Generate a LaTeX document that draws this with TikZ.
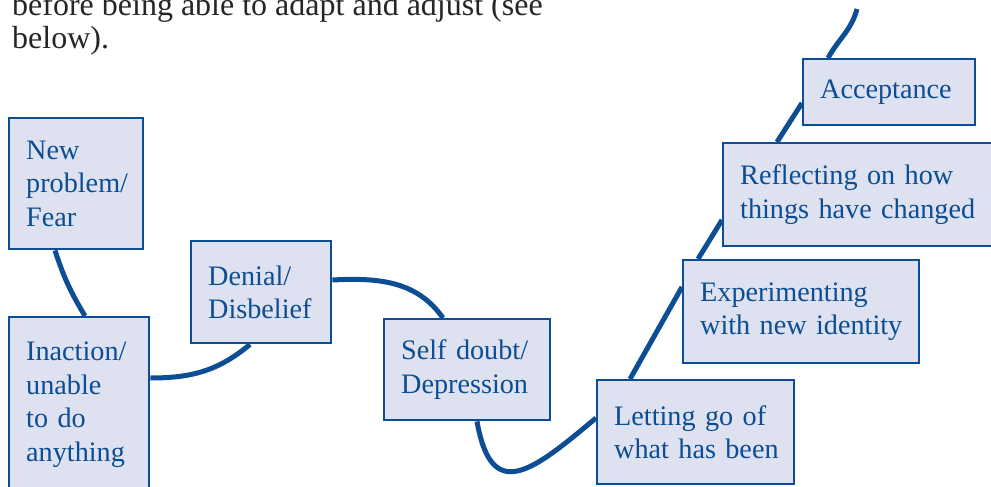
\documentclass[tikz,border=0pt]{standalone}
\usepackage{fontspec}
\setmainfont{Liberation Serif}
\usetikzlibrary{calc,backgrounds}
\definecolor{stageblue}{RGB}{12,77,148}
\definecolor{stagefill}{RGB}{221,225,240}
\tikzset{
	stage/.style={draw=stageblue, fill=stagefill, line width=2.4pt, text=stageblue,
		font=\fontsize{28.2}{33.5}\selectfont, align=left, anchor=north west,
		inner xsep=17pt, inner ysep=0pt, execute at begin node={\hyphenpenalty=10000\relax}},
	curve/.style={draw=stageblue, line width=5pt},
	intro/.style={anchor=base west, inner sep=0pt, text=black!85, font=\fontsize{32}{35}\selectfont}
}
\begin{document}
\begin{tikzpicture}[x=1pt,y=1pt]
	\useasboundingbox (0,0) rectangle (991,-487);
	\clip (0,0) rectangle (991,-487);

	% Text above the figure
	\node[intro] (introa) at (12,-16) {before being able to adapt and adjust (see};
	\node[intro] (introb) at (12,-49) {below).};

	% Stages
	\node[stage, text width=100pt, minimum height=131pt] (fear) at (8,-117) {New\\problem/\\Fear};
	\node[stage, text width=106pt, minimum height=175pt] (inaction) at (8,-316) {Inaction/\\unable\\to~do\\anything};
	\node[stage, text width=106pt, minimum height=102pt] (denial) at (190,-240) {Denial/\\Disbelief};
	\node[stage, text width=132pt, minimum height=101pt] (selfdoubt) at (383,-318) {Self~doubt/\\Depression};
	\node[stage, text width=163pt, minimum height=104pt] (lettinggo) at (596,-379) {Letting~go~of\\what~has~been};
	\node[stage, text width=202pt, minimum height=103pt] (experiment) at (682,-259) {Experimenting\\with~new~identity};
	\node[stage, text width=254pt, minimum height=103pt] (reflect) at (722,-142) {Reflecting~on~how\\things~have~changed};
	\node[stage, text width=138pt, minimum height=66pt] (accept) at (802,-58) {Acceptance};
	\coordinate (top) at (857,-9);

	% The curve behind the stages
	\begin{scope}[on background layer]
		\draw[curve] ($(fear.south west)+(47,0)$) to[out=-72,in=121] ($(inaction.north west)+(77,0)$);
		\draw[curve] ($(inaction.north east)+(0,-62)$) to[out=0,in=220] ($(denial.south west)+(60,0)$);
		\draw[curve] ($(denial.north east)+(0,-40)$) to[out=3,in=125] ($(selfdoubt.north west)+(60,0)$);
		\draw[curve] ($(selfdoubt.south west)+(94,0)$) to[out=-80,in=220,looseness=1.8] ($(lettinggo.north west)+(0,-39)$);
		\draw[curve] ($(lettinggo.north west)+(34,0)$) -- ($(experiment.north west)+(0,-28)$);
		\draw[curve] ($(experiment.north west)+(16,0)$) -- ($(reflect.north west)+(0,-78)$);
		\draw[curve] ($(reflect.north west)+(55,0)$) -- ($(accept.north west)+(0,-45)$);
		\draw[curve] ($(accept.north west)+(26,0)$) to[out=61,in=-105] (top);
	\end{scope}
\end{tikzpicture}
\end{document}
